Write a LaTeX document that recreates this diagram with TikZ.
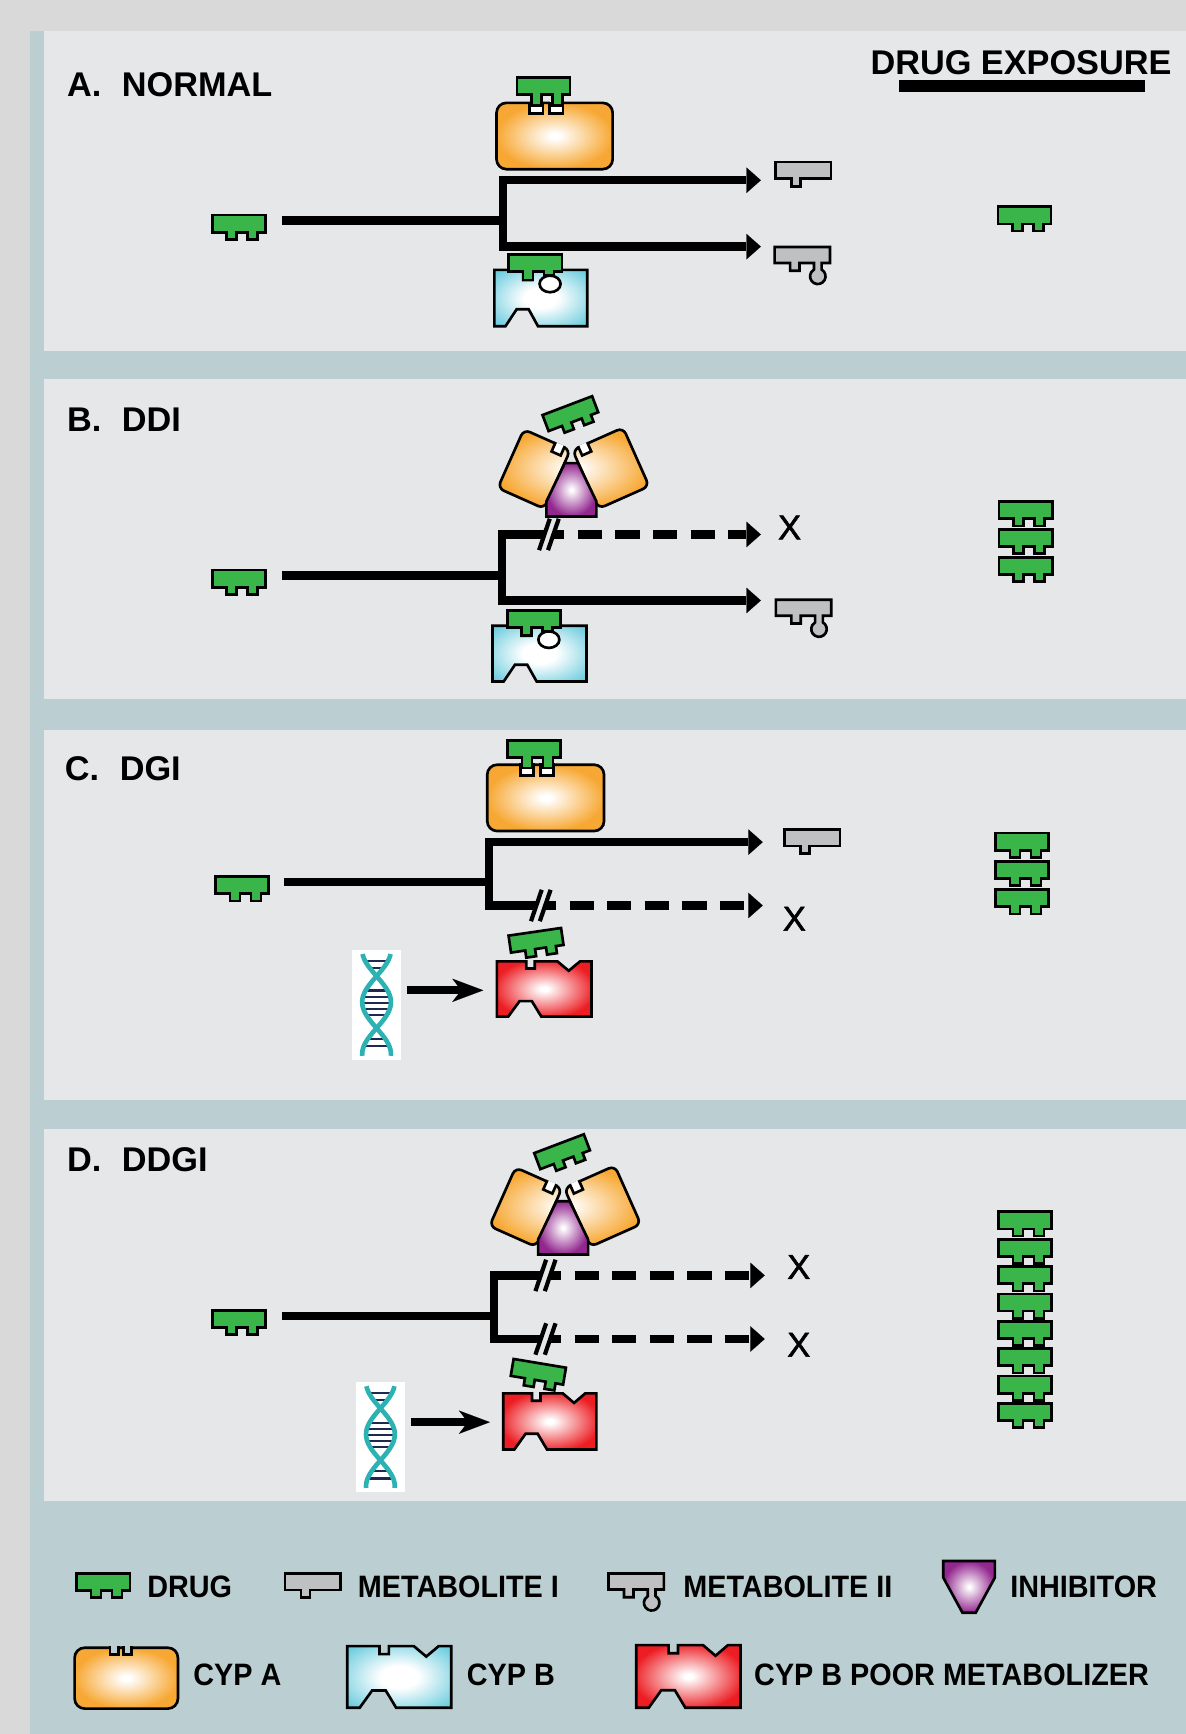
\documentclass[tikz,border=0pt]{standalone}
\usepackage{fontspec}
\setmainfont{Liberation Sans}
\newfontfamily\legfont{Liberation Sans}[FakeStretch=0.93]
\newfontfamily\xfont{Liberation Sans}[RawFeature={embolden=1.6}]
\usetikzlibrary{arrows.meta}

\definecolor{outerbg}{RGB}{217,217,217}
\definecolor{stripbg}{RGB}{187,207,211}
\definecolor{panelbg}{RGB}{230,231,232}
\definecolor{drugG}{RGB}{57,181,74}
\definecolor{metaG}{RGB}{190,192,194}
\definecolor{cypOr}{RGB}{247,168,52}
\definecolor{cypCy}{RGB}{108,204,222}
\definecolor{cypRd}{RGB}{236,30,36}
\definecolor{inhPu}{RGB}{146,39,143}
\definecolor{dnaT}{RGB}{45,178,180}
\definecolor{dnaN}{RGB}{30,40,80}

% radial fills: pale centre, saturated rim
\pgfdeclareradialshading{orshade}{\pgfpoint{0bp}{0bp}}{color(0bp)=(white); color(2bp)=(white); color(25bp)=(cypOr); color(50bp)=(cypOr)}
\pgfdeclareradialshading{cyshade}{\pgfpoint{0bp}{0bp}}{color(0bp)=(white); color(9bp)=(white); color(33bp)=(cypCy); color(50bp)=(cypCy)}
\pgfdeclareradialshading{rdshade}{\pgfpoint{0bp}{0bp}}{color(0bp)=(white); color(2bp)=(white); color(27bp)=(cypRd); color(50bp)=(cypRd)}
\pgfdeclareradialshading{pushade}{\pgfpoint{0bp}{0bp}}{color(0bp)=(white); color(1bp)=(white); color(25bp)=(inhPu); color(50bp)=(inhPu)}

\tikzset{
  outl/.style={draw=black, line width=2.4pt, line join=miter},
  flow/.style={line width=7.5pt, line join=miter},
  tri/.style={-{Triangle[length=13pt,width=23pt,line width=0.1pt]}},
  broken/.style={flow, dash pattern=on 22pt off 12pt, dash phase=12pt},
  cutmark/.style={line width=3.8pt},
  head/.style={font=\bfseries\fontsize{31}{36}\selectfont, anchor=base west, inner sep=0pt},
  legtxt/.style={font=\legfont\bfseries\fontsize{28}{32}\selectfont, anchor=base west, inner sep=0pt},
  xmark/.style={font=\xfont\fontsize{31}{36}\selectfont, inner sep=0pt},
  dnaarrow/.style={line width=7.5pt, -{Stealth[length=28pt,width=21pt,inset=8pt,line width=0.1pt]}},
}

% drug: centre of bar top, rotation, left leg depth, right leg depth
\newcommand\drugicon[5]{%
  \begin{scope}[shift={(#1,#2)}, rotate=#3]
    \filldraw[outl, fill=drugG] (-24,0) -- (24,0) -- (24,15.5) -- (17,15.5) -- (17,15.5+#5)
      -- (8,15.5+#5) -- (8,15.5) -- (-2,15.5) -- (-2,15.5+#4) -- (-11,15.5+#4) -- (-11,15.5)
      -- (-24,15.5) -- cycle;
  \end{scope}}

% metabolite I: centre of bar top
\newcommand\metaone[2]{%
  \begin{scope}[shift={(#1,#2)}]
    \filldraw[outl, fill=metaG] (-25,0) -- (25,0) -- (25,15) -- (-2.5,15) -- (-2.5,22)
      -- (-10.5,22) -- (-10.5,15) -- (-25,15) -- cycle;
  \end{scope}}

% metabolite II: centre of bar top
\newcommand\metatwo[2]{%
  \begin{scope}[shift={(#1,#2)}]
    \filldraw[outl, fill=metaG] (-25,0) -- (25,0) -- (25,14.5) -- (17.5,14.5) -- (17.5,20.5)
      arc[start angle=60, end angle=-240, radius=7pt] -- (10.5,14.5) -- (-2.5,14.5)
      -- (-2.5,21.5) -- (-11,21.5) -- (-11,14.5) -- (-25,14.5) -- cycle;
  \end{scope}}

% notch cut into a top edge: left x, top y, width, depth, fill
\newcommand\notchcut[5]{%
  \fill[#5] (#1,#2-1.3) rectangle ++(#3,#4+1.3);
  \draw[line width=2.4pt, line cap=rect, line join=miter] (#1,#2) -- ++(0,#4) -- ++(#3,0) -- ++(0,-#4);}

% CYP A: left, top, width, height, notch fill, notch 1 offset, notch 2 offset, notch width, depth
\newcommand\cypAbox[9]{%
  \shadedraw[outl, rounded corners=9pt, shading=orshade] (#1,#2) rectangle ++(#3,#4);
  \notchcut{#1+#6}{#2}{#8}{#9}{#5}
  \notchcut{#1+#7}{#2}{#8}{#9}{#5}}

% CYP B with docked drug and round pocket: left, top, width, height
\newcommand\cypBhole[4]{%
  \shadedraw[outl, shading=cyshade]
    (#1,#2) -- ({#1+0.31*#3},#2) -- ({#1+0.31*#3},{#2+0.18*#4}) -- ({#1+0.41*#3},{#2+0.18*#4})
    -- ({#1+0.41*#3},#2) -- ({#1+#3},#2) -- ({#1+#3},{#2+#4}) -- ({#1+0.47*#3},{#2+#4})
    -- ({#1+0.37*#3},{#2+0.70*#4}) -- ({#1+0.24*#3},{#2+0.70*#4}) -- ({#1+0.12*#3},{#2+#4})
    -- (#1,{#2+#4}) -- cycle;
  \filldraw[outl, fill=white] ({#1+0.6*#3},{#2+0.25*#4}) ellipse [x radius=9.5pt, y radius=7.5pt];
  \drugicon{#1+0.31*#3+11}{#2-14}{0}{0.18*#4-1.5}{0.10*#4-1.5}}

% CYP B outline with V pocket: left, top, width, height, shading
\newcommand\cypBv[5]{%
  \shadedraw[outl, shading=#5]
    (#1,#2) -- ({#1+0.31*#3},#2) -- ({#1+0.31*#3},{#2+0.13*#4}) -- ({#1+0.40*#3},{#2+0.13*#4})
    -- ({#1+0.40*#3},#2) -- ({#1+0.64*#3},#2) -- ({#1+0.76*#3},{#2+0.17*#4}) -- ({#1+0.88*#3},#2)
    -- ({#1+#3},#2) -- ({#1+#3},{#2+#4}) -- ({#1+0.47*#3},{#2+#4})
    -- ({#1+0.37*#3},{#2+0.72*#4}) -- ({#1+0.24*#3},{#2+0.72*#4}) -- ({#1+0.12*#3},{#2+#4})
    -- (#1,{#2+#4}) -- cycle;}

% CYP A split open by the inhibitor: base centre of the inhibitor
\newcommand\inhgroup[2]{%
  \begin{scope}[shift={(#1,#2)}]
    \shadedraw[outl, rounded corners=6pt, shading=orshade]
      (-1,-60) -- (-43,-78.7) -- (-66.6,-25.7) -- (-24.6,-7) -- cycle
      (1,-60) -- (46.7,-80.3) -- (70.3,-27.3) -- (24.6,-7) -- cycle;
    \begin{scope}[shift={(-1,-60)}, rotate=-24]
      \notchcut{-15}{0}{9}{8}{white}
    \end{scope}
    \begin{scope}[shift={(1,-60)}, rotate=24]
      \notchcut{6}{0}{9}{8}{white}
    \end{scope}
    \shadedraw[outl, shading=pushade]
      (-22.6,0) -- (22.6,0) -- (22.6,-13.6) -- (6,-48.2) -- (-6,-48.2) -- (-22.6,-13.6) -- cycle;
    \drugicon{-3.7}{-100.2}{20.8}{6.5}{6.5}
  \end{scope}}

% DNA double helix on a white card: top-left corner
\newcommand\dnaicon[2]{%
  \begin{scope}[shift={(#1,#2)}]
    \fill[white] (0,0) rectangle (45,100);
    \foreach \r in {10,16.5,37,42.5,48,53.5,59,81,87.5}
      \draw[dnaN, line width=2pt] ({22.5-13*abs(sin(180*(\r-24)/47))},\r) -- ({22.5+13*abs(sin(180*(\r-24)/47))},\r);
    \draw[dnaT, line width=4.2pt] plot[domain=4:96, samples=60, smooth] ({22.5+13*sin(180*(\x-24)/47)},\x);
    \draw[dnaT, line width=4.2pt] plot[domain=4:96, samples=60, smooth] ({22.5-13*sin(180*(\x-24)/47)},\x);
  \end{scope}}

\begin{document}
\begin{tikzpicture}[x=1pt,y=-1pt]
\useasboundingbox (0,0) rectangle (1072,1568);
% backgrounds
\fill[outerbg] (0,0) rectangle (1072,1568);
\fill[stripbg] (27,27.7) rectangle (1072,1568);
\fill[panelbg] (40,27.7) rectangle (1072,317);
\fill[panelbg] (40,343) rectangle (1072,632);
\fill[panelbg] (40,660) rectangle (1072,995);
\fill[panelbg] (40,1021) rectangle (1072,1357);

% headings
\node[head] (hA) at (60.5,87.4) {A.\hspace{0.6em}NORMAL};
\node[head] (hB) at (60.5,390.5) {B.\hspace{0.6em}DDI};
\node[head] (hC) at (58.5,706) {C.\hspace{0.6em}DGI};
\node[head] (hD) at (60.5,1059) {D.\hspace{0.6em}DDGI};
\node[head] (hE) at (787,67.8) {DRUG EXPOSURE};
\fill (813,72.3) rectangle (1035.6,82.9);

% ---------------- A. normal
\drugicon{216}{194.5}{0}{6.5}{6.5}
\coordinate (A-in) at (255,199.5);
\coordinate (A-fork) at (455,199.5);
\coordinate (A-up) at (688,163);
\coordinate (A-lo) at (688,223);
\draw[flow] (A-in) -- (A-fork);
\draw[flow,tri] (A-fork) |- (A-up);
\draw[flow,tri] (A-fork) |- (A-lo);
\cypAbox{449}{93}{105}{60}{white}{30}{48}{12}{9.5}
\drugicon{491.5}{70}{0}{10}{10}
\cypBhole{447}{244}{84}{51}
\metaone{726.5}{146.4}
\metatwo{725.5}{223.3}
\drugicon{926.5}{187}{0}{6.5}{6.5}

% ---------------- B. drug-drug interaction
\drugicon{216}{515.5}{0}{6.5}{6.5}
\coordinate (B-in) at (255,520.5);
\coordinate (B-fork) at (454,520.5);
\coordinate (B-cut1) at (492.3,483.3);
\coordinate (B-cut2) at (500.4,483.3);
\coordinate (B-up) at (688,483.3);
\coordinate (B-lo) at (688,543);
\draw[flow] (B-in) -- (B-fork);
\draw[flow] (B-fork) |- (B-cut1);
\draw[broken,tri] (B-cut2) -- (B-up);
\draw[flow,tri] (B-fork) |- (B-lo);
\draw[cutmark] ([shift={(-4.85,14.2)}]B-cut1) -- ([shift={(4.85,-14.2)}]B-cut1);
\draw[cutmark] ([shift={(-4.85,14.2)}]B-cut2) -- ([shift={(4.85,-14.2)}]B-cut2);
\node[xmark] (B-x) at (714,477) {X};
\metatwo{726.6}{542.3}
\inhgroup{516.7}{467}
\cypBhole{445.3}{565.8}{85}{50.4}
\foreach \k in {0,1,2} {\drugicon{927.5}{453.5+25.3*\k}{0}{6.5}{6.5}}

% ---------------- C. drug-gene interaction
\drugicon{219}{792.7}{0}{6.5}{6.5}
\coordinate (C-in) at (257,797.7);
\coordinate (C-fork) at (442,797.7);
\coordinate (C-up) at (689.7,761.5);
\coordinate (C-cut1) at (485,818.8);
\coordinate (C-cut2) at (493,818.8);
\coordinate (C-lo) at (689.7,818.8);
\draw[flow] (C-in) -- (C-fork);
\draw[flow,tri] (C-fork) |- (C-up);
\draw[flow] (C-fork) |- (C-cut1);
\draw[broken,tri] (C-cut2) -- (C-lo);
\draw[cutmark] ([shift={(-4.85,14.2)}]C-cut1) -- ([shift={(4.85,-14.2)}]C-cut1);
\draw[cutmark] ([shift={(-4.85,14.2)}]C-cut2) -- ([shift={(4.85,-14.2)}]C-cut2);
\node[xmark] (C-x) at (718.3,830.8) {X};
\cypAbox{440.6}{691.5}{105.6}{60}{white}{30}{48}{12}{9.5}
\drugicon{483.1}{669.5}{0}{9.5}{9.5}
\metaone{734.6}{750}
\cypBv{449.3}{869.3}{85.5}{50}{rdshade}
\drugicon{483.6}{842.6}{8.3}{6.5}{6.5}
\dnaicon{318}{858.7}
\coordinate (C-dna) at (368,895.5);
\coordinate (C-pm) at (437,895.5);
\draw[dnaarrow] (C-dna) -- (C-pm);
\foreach \k in {0,1,2} {\drugicon{924.4}{753.3+25.6*\k}{0}{6.5}{6.5}}

% ---------------- D. drug-drug-gene interaction
\drugicon{216}{1185}{0}{6.5}{6.5}
\coordinate (D-in) at (255,1190);
\coordinate (D-fork) at (446.6,1190);
\coordinate (D-cut1u) at (489,1153.3);
\coordinate (D-cut2u) at (497.5,1153.3);
\coordinate (D-up) at (691.5,1153.3);
\coordinate (D-cut1l) at (489,1210.8);
\coordinate (D-cut2l) at (497.5,1210.8);
\coordinate (D-lo) at (691.5,1210.8);
\draw[flow] (D-in) -- (D-fork);
\draw[flow] (D-fork) |- (D-cut1u);
\draw[flow] (D-fork) |- (D-cut1l);
\draw[broken,tri] (D-cut2u) -- (D-up);
\draw[broken,tri] (D-cut2l) -- (D-lo);
\foreach \c in {D-cut1u,D-cut2u,D-cut1l,D-cut2l}
  \draw[cutmark] ([shift={(-4.85,14.2)}]\c) -- ([shift={(4.85,-14.2)}]\c);
\node[xmark] (D-x1) at (722.3,1145.7) {X};
\node[xmark] (D-x2) at (722.3,1216) {X};
\inhgroup{509.2}{1134.4}
\cypBv{455}{1260}{84.3}{50.7}{rdshade}
\drugicon{488.1}{1232.8}{-9.5}{6.5}{6.5}
\dnaicon{321.5}{1249.5}
\coordinate (D-dna) at (372,1286);
\coordinate (D-pm) at (443,1286);
\draw[dnaarrow] (D-dna) -- (D-pm);
\foreach \k in {0,...,7} {\drugicon{927}{1095.8+24.75*\k}{0}{6.5}{6.5}}

% ---------------- legend
\drugicon{93.4}{1422.8}{0}{6.5}{6.5}
\node[legtxt] (L-drug) at (133,1444.5) {DRUG};
\metaone{282.7}{1422.8}
\node[legtxt] (L-m1) at (323.4,1444.5) {METABOLITE I};
\metatwo{575.3}{1422.8}
\node[legtxt] (L-m2) at (617.7,1444.5) {METABOLITE II};
\shadedraw[outl, shading=pushade]
  (853,1411.6) -- (899.6,1411.6) -- (899.6,1426.6) -- (882.3,1458.3) -- (870.3,1458.3) -- (853,1426.6) -- cycle;
\node[legtxt] (L-inh) at (913.4,1444.5) {INHIBITOR};
\cypAbox{67.5}{1490}{93.4}{55}{stripbg}{32}{44}{7.5}{6}
\node[legtxt] (L-a) at (174.7,1524) {CYP A};
\cypBv{314}{1488.5}{94}{55.7}{cyshade}
\node[legtxt] (L-b) at (422,1524) {CYP B};
\cypBv{575.4}{1487.6}{94.2}{56.6}{rdshade}
\node[legtxt] (L-pm) at (681.8,1524) {CYP B POOR METABOLIZER};
\end{tikzpicture}
\end{document}
